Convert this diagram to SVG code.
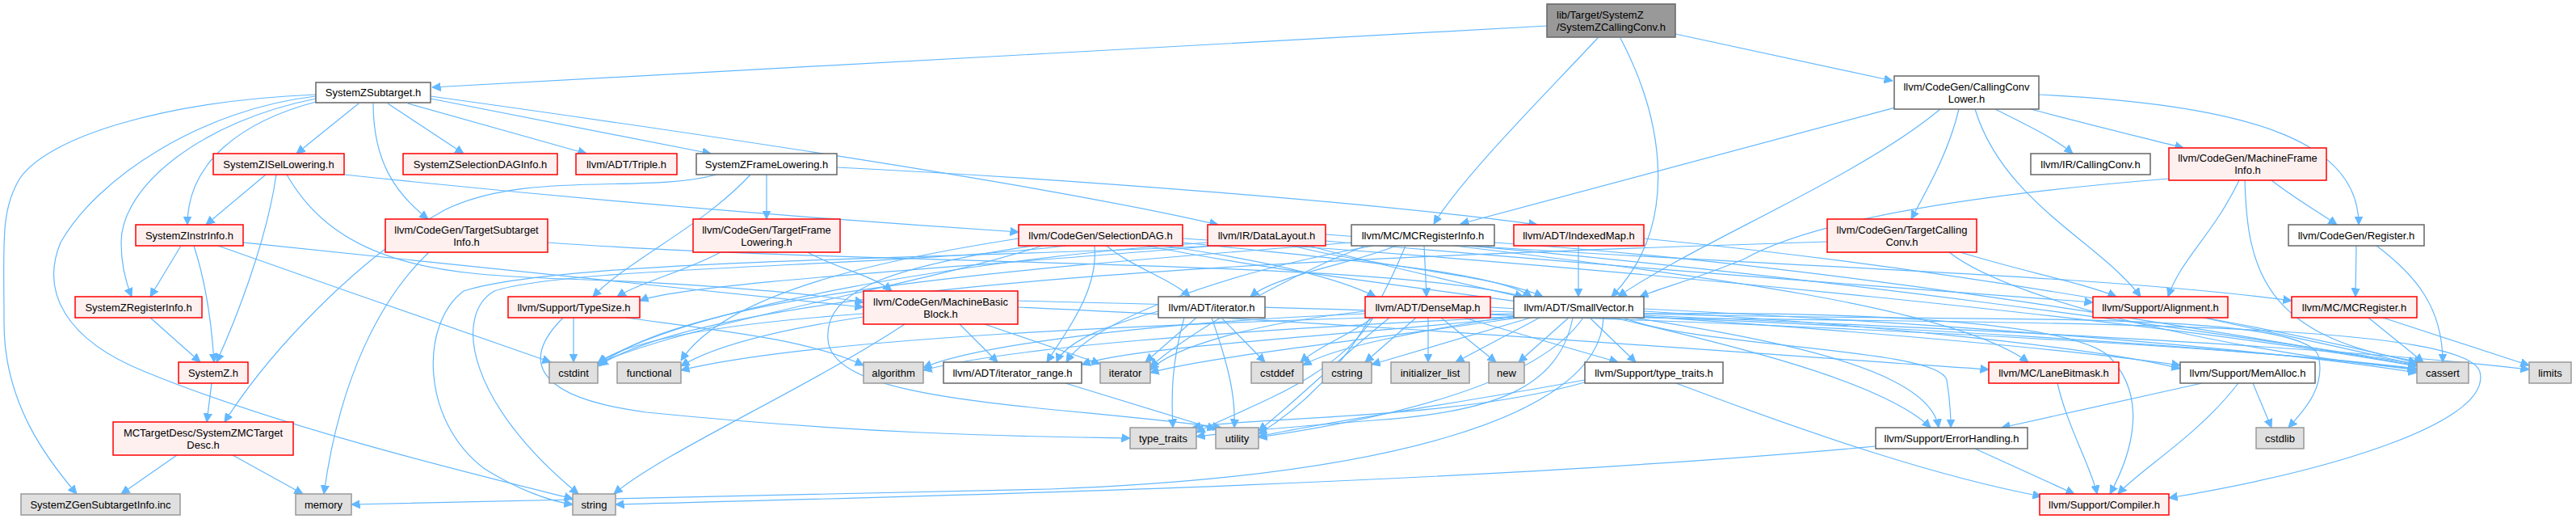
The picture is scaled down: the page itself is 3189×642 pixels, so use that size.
<svg xmlns="http://www.w3.org/2000/svg" width="3189" height="642" viewBox="0 0 3189 642">
<defs>
<style>
.n rect{stroke-width:1.5}
.w rect{fill:#ffffff;stroke:#666666}
.r rect{fill:#fff0f0;stroke:#ff0000}
.g rect{fill:#e0e0e0;stroke:#999999}
.t rect{fill:#999999;stroke:#666666}
text{font-family:"Liberation Sans",Arial,sans-serif;font-size:13px;fill:#000000;text-anchor:middle}
.t text{text-anchor:start}
#edges path{fill:none;stroke:#63b8ff;stroke-width:1.2;marker-end:url(#ah)}
</style>
<marker id="ah" markerUnits="userSpaceOnUse" markerWidth="11" markerHeight="11" viewBox="0 0 11 11" refX="10.5" refY="5.5" orient="auto"><path d="M0,0.5 L10.5,5.5 L0,10.5 z" fill="#63b8ff" stroke="#63b8ff"/></marker>
</defs>
<rect width="3189" height="642" fill="#ffffff"/>
<g id="edges">
<path d="M1915,32 C1500,55 900,88 535,108"/>
<path d="M1978,47 C1900,130 1810,220 1775,277"/>
<path d="M2006,47 C2060,150 2080,280 1995,367"/>
<path d="M2074,42 C2180,65 2270,85 2343,100"/>
<path d="M2350,132 C2150,185 1950,240 1808,277"/>
<path d="M2402,135 C2300,220 2100,300 2003,367"/>
<path d="M2425,135 C2412,190 2385,235 2366,271"/>
<path d="M2445,135 C2480,250 2600,300 2650,367"/>
<path d="M2470,135 C2510,155 2545,172 2566,190"/>
<path d="M2514,135 C2590,155 2660,172 2703,183"/>
<path d="M2524,117 C2800,130 2920,180 2920,278"/>
<path d="M2812,223 C2840,245 2870,262 2893,278"/>
<path d="M2772,223 C2740,290 2700,320 2684,367"/>
<path d="M2779,223 C2782,330 2800,420 3000,448"/>
<path d="M2685,221 C2450,240 2250,270 2160,320 C2100,345 2060,355 2030,367"/>
<path d="M2427,312 C2500,335 2580,350 2620,367"/>
<path d="M2413,312 C2500,380 2800,440 2991,456"/>
<path d="M2262,299 C1600,320 900,350 742,452"/>
<path d="M391,117 C200,125 60,170 25,220 C0,260 5,300 5,400 C5,500 60,570 95,611"/>
<path d="M391,119 C250,135 120,220 75,300 C50,360 80,420 180,460 C350,530 600,590 709,617"/>
<path d="M391,122 C250,150 150,230 150,300 C150,330 156,350 163,367"/>
<path d="M391,126 C300,150 232,200 232,278"/>
<path d="M444,128 L367,190"/>
<path d="M462,128 C462,200 490,240 530,271"/>
<path d="M480,128 L574,190"/>
<path d="M505,128 L726,190"/>
<path d="M533,122 L880,190"/>
<path d="M533,119 C900,170 1300,230 1508,278"/>
<path d="M329,216 L255,278"/>
<path d="M342,216 C330,300 290,400 268,448"/>
<path d="M355,216 C420,330 550,340 700,345 C850,350 1000,362 1069,374"/>
<path d="M426,216 C700,245 1000,270 1261,287"/>
<path d="M224,304 L186,367"/>
<path d="M240,304 C255,350 262,400 265,448"/>
<path d="M270,304 C400,350 600,420 682,448"/>
<path d="M301,300 C600,330 900,360 1069,380"/>
<path d="M531,312 C470,370 420,470 401,611"/>
<path d="M678,300 C1100,330 1700,320 1886,367"/>
<path d="M887,216 C800,240 650,210 550,260 C440,320 330,440 278,522"/>
<path d="M949,216 L949,271"/>
<path d="M929,216 C870,280 780,320 734,367"/>
<path d="M1036,207 C1300,220 1700,250 1903,278"/>
<path d="M892,312 C850,335 790,350 764,367"/>
<path d="M1000,312 C1030,330 1080,340 1104,360"/>
<path d="M1440,304 C1550,320 1650,340 1703,367"/>
<path d="M1464,300 C1650,320 1850,335 1896,367"/>
<path d="M1370,304 C1400,330 1450,345 1473,367"/>
<path d="M1355,304 C1360,360 1320,410 1296,448"/>
<path d="M1261,295 C1100,320 900,360 843,446"/>
<path d="M1290,304 C1150,350 850,400 740,450"/>
<path d="M1320,304 C1100,330 700,330 612,360 C560,390 580,500 716,611"/>
<path d="M1280,304 C1100,330 1020,360 1025,420 C1030,500 1300,500 1512,529"/>
<path d="M1464,295 C2000,330 2700,400 2992,453"/>
<path d="M1420,304 C1800,380 2380,400 2400,529"/>
<path d="M1600,304 C1700,330 1850,340 1910,367"/>
<path d="M1641,298 C2000,330 2400,360 2591,374"/>
<path d="M1505,304 C1200,330 850,350 792,372"/>
<path d="M1620,304 C1900,380 2300,440 2390,529"/>
<path d="M1641,290 C2200,330 2800,420 2992,450"/>
<path d="M1495,300 C1200,320 850,380 741,449"/>
<path d="M1505,304 C1200,320 700,320 574,360 C520,400 520,520 600,580 C640,605 680,620 709,624"/>
<path d="M1763,304 L1766,367"/>
<path d="M1728,304 C1680,325 1580,340 1548,367"/>
<path d="M1700,304 C1500,340 1350,400 1320,448"/>
<path d="M1820,304 C2200,330 2600,340 2837,372"/>
<path d="M1800,304 C2100,340 2420,380 2511,448"/>
<path d="M1850,300 C2300,330 2800,420 2992,452"/>
<path d="M1673,300 C1300,330 850,360 741,453"/>
<path d="M1690,304 C1550,360 1450,430 1424,454"/>
<path d="M1740,304 C1700,400 1650,480 1558,537"/>
<path d="M1954,304 L1954,367"/>
<path d="M2035,295 C2400,330 2800,400 2992,449"/>
<path d="M1434,385 C1380,400 1320,420 1308,448"/>
<path d="M1481,393 L1418,448"/>
<path d="M1512,393 L1566,448"/>
<path d="M1466,393 C1450,450 1450,490 1452,529"/>
<path d="M1500,393 C1520,450 1530,490 1528,529"/>
<path d="M1319,474 L1505,531"/>
<path d="M1188,401 L1235,448"/>
<path d="M1219,401 L1362,450"/>
<path d="M1120,401 C1000,480 820,560 760,611"/>
<path d="M1069,392 C950,410 880,430 843,453"/>
<path d="M1069,388 C900,400 780,420 740,449"/>
<path d="M1260,380 C1700,400 2200,440 2462,457"/>
<path d="M1260,372 C2000,390 2700,420 2992,456"/>
<path d="M710,393 L710,448"/>
<path d="M697,393 C650,440 650,490 800,510 C1100,540 1300,540 1399,542"/>
<path d="M775,393 C900,410 1000,420 1069,452"/>
<path d="M1700,393 C1660,420 1630,430 1610,448"/>
<path d="M1753,393 L1690,448"/>
<path d="M1768,393 L1768,448"/>
<path d="M1784,393 L1852,448"/>
<path d="M1812,393 L2003,448"/>
<path d="M1690,385 C1550,400 1450,430 1424,458"/>
<path d="M1690,388 C1400,400 1200,430 1143,455"/>
<path d="M1720,393 C1650,450 1600,500 1558,533"/>
<path d="M1700,393 C1650,470 1550,500 1481,535"/>
<path d="M1845,385 C2300,400 2800,430 2992,458"/>
<path d="M1845,380 C2200,400 2550,430 2699,452"/>
<path d="M1840,393 C2200,380 2550,390 2610,440 C2660,490 2640,560 2612,611"/>
<path d="M1880,390 C1750,410 1650,430 1613,452"/>
<path d="M1895,393 L1698,451"/>
<path d="M1906,393 L1802,448"/>
<path d="M1942,393 L1880,448"/>
<path d="M1968,393 L2025,448"/>
<path d="M1874,388 C1400,400 1000,420 843,458"/>
<path d="M1874,392 C1500,410 1250,430 1143,458"/>
<path d="M1880,393 C1700,420 1500,440 1424,461"/>
<path d="M1874,393 C1600,420 1400,430 1339,451"/>
<path d="M1947,393 C1930,480 1850,510 1700,520 C1600,528 1520,535 1481,540"/>
<path d="M1960,393 C1900,480 1700,520 1558,541"/>
<path d="M2035,382 C2400,400 2800,430 2992,461"/>
<path d="M2035,388 C2400,400 2850,380 2870,440 C2880,480 2850,510 2833,529"/>
<path d="M2035,390 C2500,410 2900,430 3131,457"/>
<path d="M1985,393 C1980,520 1700,590 1300,605 C900,615 600,620 435,624"/>
<path d="M2035,385 C2300,400 2600,430 2699,456"/>
<path d="M2010,393 C2100,430 2400,430 2410,470 C2415,500 2415,515 2415,529"/>
<path d="M2035,393 C2600,400 3050,400 3070,460 C3085,520 2900,580 2685,616"/>
<path d="M1962,470 C1800,500 1650,520 1558,540"/>
<path d="M1965,472 C1800,520 1550,515 1476,529"/>
<path d="M2075,474 C2250,540 2400,590 2527,614"/>
<path d="M2547,474 C2560,530 2590,580 2596,611"/>
<path d="M2726,474 L2478,529"/>
<path d="M2771,474 C2720,540 2650,580 2622,611"/>
<path d="M2789,474 L2812,529"/>
<path d="M2445,555 L2568,611"/>
<path d="M2322,552 C1800,600 1100,615 762,624"/>
<path d="M2728,393 C2850,420 2950,440 2992,452"/>
<path d="M2932,393 L3000,448"/>
<path d="M2950,393 L3131,452"/>
<path d="M2917,304 L2916,367"/>
<path d="M2942,304 C2990,340 3024,380 3024,448"/>
<path d="M186,393 L248,448"/>
<path d="M262,474 L256,522"/>
<path d="M219,563 L150,611"/>
<path d="M288,563 L375,611"/>
</g>
<g id="n_top" class="n t"><rect x="1915" y="5" width="159" height="41"/><text x="1927" y="23">lib/Target/SystemZ</text><text x="1927" y="38">/SystemZCallingConv.h</text></g>
<g id="n_sub" class="n w"><rect x="391" y="102" width="142" height="25"/><text x="462" y="119">SystemZSubtarget.h</text></g>
<g id="n_ccl" class="n w"><rect x="2345" y="94" width="179" height="41"/><text x="2434.5" y="112">llvm/CodeGen/CallingConv</text><text x="2434.5" y="127">Lower.h</text></g>
<g id="n_isel" class="n r"><rect x="264" y="190" width="162" height="26"/><text x="345" y="207.5">SystemZISelLowering.h</text></g>
<g id="n_sdaginfo" class="n r"><rect x="499" y="190" width="191" height="26"/><text x="594.5" y="207.5">SystemZSelectionDAGInfo.h</text></g>
<g id="n_triple" class="n r"><rect x="713" y="190" width="125" height="26"/><text x="775.5" y="207.5">llvm/ADT/Triple.h</text></g>
<g id="n_frame" class="n w"><rect x="862" y="190" width="174" height="26"/><text x="949" y="207.5">SystemZFrameLowering.h</text></g>
<g id="n_irccc" class="n w"><rect x="2514" y="190" width="148" height="26"/><text x="2588" y="207.5">llvm/IR/CallingConv.h</text></g>
<g id="n_mfi" class="n r"><rect x="2685" y="183" width="195" height="40"/><text x="2782.5" y="200">llvm/CodeGen/MachineFrame</text><text x="2782.5" y="215">Info.h</text></g>
<g id="n_instr" class="n r"><rect x="168" y="278" width="133" height="26"/><text x="234.5" y="295.5">SystemZInstrInfo.h</text></g>
<g id="n_tsi" class="n r"><rect x="477" y="271" width="201" height="41"/><text x="577.5" y="288.5">llvm/CodeGen/TargetSubtarget</text><text x="577.5" y="303.5">Info.h</text></g>
<g id="n_tfl" class="n r"><rect x="858" y="271" width="182" height="41"/><text x="949" y="288.5">llvm/CodeGen/TargetFrame</text><text x="949" y="303.5">Lowering.h</text></g>
<g id="n_sdag" class="n r"><rect x="1261" y="278" width="203" height="26"/><text x="1362.5" y="295.5">llvm/CodeGen/SelectionDAG.h</text></g>
<g id="n_dl" class="n r"><rect x="1495" y="278" width="146" height="26"/><text x="1568" y="295.5">llvm/IR/DataLayout.h</text></g>
<g id="n_mcri" class="n w"><rect x="1673" y="278" width="177" height="26"/><text x="1761.5" y="295.5">llvm/MC/MCRegisterInfo.h</text></g>
<g id="n_imap" class="n r"><rect x="1874" y="278" width="161" height="26"/><text x="1954.5" y="295.5">llvm/ADT/IndexedMap.h</text></g>
<g id="n_tcc" class="n r"><rect x="2262" y="271" width="185" height="41"/><text x="2354.5" y="288.5">llvm/CodeGen/TargetCalling</text><text x="2354.5" y="303.5">Conv.h</text></g>
<g id="n_reg" class="n w"><rect x="2833" y="278" width="168" height="26"/><text x="2917" y="295.5">llvm/CodeGen/Register.h</text></g>
<g id="n_rinfo" class="n r"><rect x="93" y="367" width="157" height="26"/><text x="171.5" y="384.5">SystemZRegisterInfo.h</text></g>
<g id="n_tsize" class="n r"><rect x="629" y="367" width="163" height="26"/><text x="710.5" y="384.5">llvm/Support/TypeSize.h</text></g>
<g id="n_mbb" class="n r"><rect x="1069" y="360" width="191" height="41"/><text x="1164.5" y="377.5">llvm/CodeGen/MachineBasic</text><text x="1164.5" y="392.5">Block.h</text></g>
<g id="n_iterh" class="n w"><rect x="1434" y="367" width="132" height="26"/><text x="1500" y="384.5">llvm/ADT/iterator.h</text></g>
<g id="n_dmap" class="n r"><rect x="1690" y="367" width="155" height="26"/><text x="1767.5" y="384.5">llvm/ADT/DenseMap.h</text></g>
<g id="n_svec" class="n w"><rect x="1874" y="367" width="161" height="26"/><text x="1954.5" y="384.5">llvm/ADT/SmallVector.h</text></g>
<g id="n_align" class="n r"><rect x="2591" y="367" width="167" height="26"/><text x="2674.5" y="384.5">llvm/Support/Alignment.h</text></g>
<g id="n_mcreg" class="n r"><rect x="2837" y="367" width="155" height="26"/><text x="2914.5" y="384.5">llvm/MC/MCRegister.h</text></g>
<g id="n_sz" class="n r"><rect x="221" y="448" width="86" height="26"/><text x="264" y="465.5">SystemZ.h</text></g>
<g id="n_cstdint" class="n g"><rect x="680" y="448" width="60" height="26"/><text x="710" y="465.5">cstdint</text></g>
<g id="n_functional" class="n g"><rect x="764" y="448" width="79" height="26"/><text x="803.5" y="465.5">functional</text></g>
<g id="n_algorithm" class="n g"><rect x="1069" y="448" width="74" height="26"/><text x="1106" y="465.5">algorithm</text></g>
<g id="n_irange" class="n w"><rect x="1168" y="448" width="171" height="26"/><text x="1253.5" y="465.5">llvm/ADT/iterator_range.h</text></g>
<g id="n_iterator" class="n g"><rect x="1362" y="448" width="62" height="26"/><text x="1393" y="465.5">iterator</text></g>
<g id="n_cstddef" class="n g"><rect x="1549" y="448" width="64" height="26"/><text x="1581" y="465.5">cstddef</text></g>
<g id="n_cstring" class="n g"><rect x="1637" y="448" width="61" height="26"/><text x="1667.5" y="465.5">cstring</text></g>
<g id="n_initl" class="n g"><rect x="1722" y="448" width="97" height="26"/><text x="1770.5" y="465.5">initializer_list</text></g>
<g id="n_new" class="n g"><rect x="1843" y="448" width="44" height="26"/><text x="1865" y="465.5">new</text></g>
<g id="n_stt" class="n w"><rect x="1962" y="448" width="171" height="26"/><text x="2047.5" y="465.5">llvm/Support/type_traits.h</text></g>
<g id="n_lane" class="n r"><rect x="2462" y="448" width="161" height="26"/><text x="2542.5" y="465.5">llvm/MC/LaneBitmask.h</text></g>
<g id="n_memalloc" class="n w"><rect x="2699" y="448" width="167" height="26"/><text x="2782.5" y="465.5">llvm/Support/MemAlloc.h</text></g>
<g id="n_cassert" class="n g"><rect x="2992" y="448" width="64" height="26"/><text x="3024" y="465.5">cassert</text></g>
<g id="n_limits" class="n g"><rect x="3131" y="448" width="52" height="26"/><text x="3157" y="465.5">limits</text></g>
<g id="n_mctd" class="n r"><rect x="140" y="522" width="223" height="41"/><text x="251.5" y="539.5">MCTargetDesc/SystemZMCTarget</text><text x="251.5" y="554.5">Desc.h</text></g>
<g id="n_typetraits" class="n g"><rect x="1399" y="529" width="82" height="26"/><text x="1440" y="546.5">type_traits</text></g>
<g id="n_utility" class="n g"><rect x="1505" y="529" width="53" height="26"/><text x="1531.5" y="546.5">utility</text></g>
<g id="n_err" class="n w"><rect x="2322" y="529" width="188" height="26"/><text x="2416" y="546.5">llvm/Support/ErrorHandling.h</text></g>
<g id="n_cstdlib" class="n g"><rect x="2793" y="529" width="59" height="26"/><text x="2822.5" y="546.5">cstdlib</text></g>
<g id="n_gen" class="n g"><rect x="26" y="611" width="197" height="26"/><text x="124.5" y="628.5">SystemZGenSubtargetInfo.inc</text></g>
<g id="n_memory" class="n g"><rect x="366" y="611" width="69" height="26"/><text x="400.5" y="628.5">memory</text></g>
<g id="n_string" class="n g"><rect x="709" y="611" width="53" height="26"/><text x="735.5" y="628.5">string</text></g>
<g id="n_comp" class="n r"><rect x="2525" y="611" width="160" height="26"/><text x="2605" y="628.5">llvm/Support/Compiler.h</text></g>
</svg>
